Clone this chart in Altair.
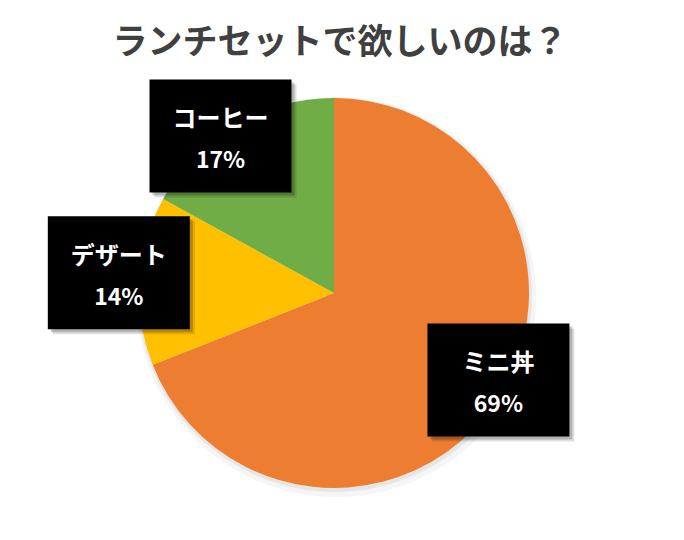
import altair as alt
import pandas as pd

categories = ["ミニ丼", "デザート", "コーヒー"]
values = [69, 14, 17]
order_idx = [0, 1, 2]
colors = ["#ED7D31", "#FFC000", "#70AD47"]
title_text = ["ランチセットで欲しいのは？"]

df = pd.DataFrame({"cat": categories, "val": values, "idx": order_idx})
tdf = pd.DataFrame({"t": title_text})

W, H = 668, 524
CX, CY, R = 326, 285, 195
FONT = "Noto Sans CJK JP"

labeled = (
    alt.Chart(df)
    .transform_window(cum="sum(val)", sort=[alt.SortField("idx")], frame=[None, 0])
    .transform_joinaggregate(total="sum(val)")
    .transform_calculate(
        mid="(datum.cum - datum.val/2)/datum.total*2*PI",
    )
    .transform_calculate(
        lx="318.4 + 208*sin(datum.mid)",
        ly="275 - 171.5*cos(datum.mid)",
    )
    .transform_calculate(
        x1="datum.lx - 71", x2="datum.lx + 71",
        y1="datum.ly - 56", y2="datum.ly + 57",
        ty1="datum.ly - 15", ty2="datum.ly + 26",
        pct="round(datum.val/datum.total*100) + '%'",
    )
)

def box(dx, dy, color, opacity):
    return labeled.transform_calculate(
        sx1=f"datum.x1 + {dx}", sx2=f"datum.x2 + {dx}",
        sy1=f"datum.y1 + {dy}", sy2=f"datum.y2 + {dy}",
    ).mark_rect(color=color, opacity=opacity).encode(
        x=alt.X("sx1:Q", scale=None, axis=None),
        x2="sx2:Q",
        y=alt.Y("sy1:Q", scale=None, axis=None),
        y2="sy2:Q",
    )

shadow_src = alt.Chart(df).transform_filter("datum.idx == 0")
pie_shadow1 = shadow_src.mark_arc(outerRadius=R + 5, theta=0, theta2=6.2832, color="#000000", opacity=0.04).encode(
    x=alt.value(CX + 2), y=alt.value(CY + 4))
pie_shadow2 = shadow_src.mark_arc(outerRadius=R + 2, theta=0, theta2=6.2832, color="#000000", opacity=0.06).encode(
    x=alt.value(CX + 1), y=alt.value(CY + 2))

pie = alt.Chart(df).mark_arc(outerRadius=R).encode(
    theta=alt.Theta("val:Q", stack=True),
    order=alt.Order("idx:Q"),
    color=alt.Color("cat:N", scale=alt.Scale(domain=categories, range=colors), legend=None),
    x=alt.value(CX), y=alt.value(CY),
)

name_text = labeled.mark_text(fontSize=24, fontWeight="bold", color="white", font=FONT).encode(
    x=alt.X("lx:Q", scale=None, axis=None),
    y=alt.Y("ty1:Q", scale=None, axis=None),
    text="cat:N",
)
pct_text = labeled.mark_text(fontSize=23, fontWeight="bold", color="white", font=FONT).encode(
    x=alt.X("lx:Q", scale=None, axis=None),
    y=alt.Y("ty2:Q", scale=None, axis=None),
    text="pct:N",
)

title = alt.Chart(tdf).mark_text(fontSize=35, fontWeight="bold", color="#404040", font=FONT).encode(
    text="t:N", x=alt.value(332), y=alt.value(35),
)

chart = alt.layer(
    pie_shadow1, pie_shadow2, pie,
    box(5, 5, "#000000", 0.12), box(3, 3, "#000000", 0.2),
    box(0, 0, "#000000", 1.0),
    name_text, pct_text, title,
).properties(width=W, height=H, autosize="none", padding=0).configure_view(stroke=None)

chart.save("out.html", embed_options={"renderer": "svg", "actions": False})
